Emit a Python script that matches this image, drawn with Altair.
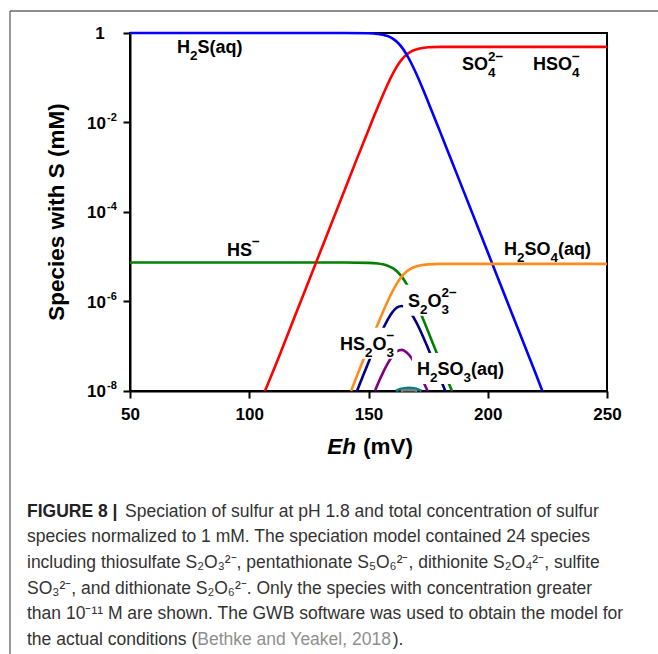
import altair as alt
import pandas as pd

FONT = "Liberation Sans"

# ---------------- data ----------------
EH_TICKS = [50, 100, 150, 200, 250]
Y_TICK_EXP = [0, -2, -4, -6, -8]

SPECIES = ["HS-", "SO4--", "H2S(aq)", "H2SO4(aq)", "S2O3--", "HS2O3-", "S-teal", "S-gray"]
COLORS = ["#008000", "#ff0000", "#0000ff", "#ff8c1a", "#000080", "#800080", "#008080", "#7f7f7f"]

# Eh (mV) and log10(concentration, mM)
hs_eh = [50, 140, 150, 154, 156, 158, 160, 162, 164, 166, 168, 170, 172, 175, 178, 180, 184, 185.0]
hs_log = [-5.13, -5.13, -5.136, -5.15, -5.17, -5.20, -5.25, -5.33, -5.45, -5.61, -5.81, -6.04, -6.28, -6.67, -7.07, -7.33, -7.87, -8.0]

so4_eh = [106.6, 110, 120, 130, 140, 145, 150, 152, 154, 156, 158, 160, 162, 164, 166, 168, 170, 172, 175, 180, 190, 250]
so4_log = [-8.0, -7.56, -6.21, -4.86, -3.51, -2.83, -2.17, -1.90, -1.64, -1.39, -1.15, -0.93, -0.74, -0.59, -0.48, -0.41, -0.37, -0.34, -0.32, -0.31, -0.31, -0.31]

h2s_eh = [50, 100, 140, 150, 154, 156, 158, 160, 162, 164, 166, 168, 170, 172, 175, 180, 185, 190, 200, 210, 220, 222.9]
h2s_log = [0, 0, 0, -0.006, -0.021, -0.038, -0.068, -0.119, -0.201, -0.321, -0.483, -0.681, -0.907, -1.152, -1.540, -2.204, -2.877, -3.55, -4.90, -6.25, -7.60, -8.0]

h2so4_eh = [142.7, 145, 148, 150, 152, 154, 156, 158, 160, 162, 164, 166, 168, 170, 172, 175, 180, 190, 250]
h2so4_log = [-8.0, -7.68, -7.28, -7.02, -6.75, -6.49, -6.24, -6.00, -5.78, -5.59, -5.44, -5.33, -5.26, -5.22, -5.19, -5.17, -5.16, -5.16, -5.16]

s2o3_eh = [145.2, 146, 148, 150, 152, 154, 156, 158, 160, 162, 164, 166, 168, 170, 172, 175, 178, 180, 182.2]
s2o3_log = [-8.0, -7.89, -7.62, -7.36, -7.10, -6.85, -6.62, -6.41, -6.24, -6.13, -6.10, -6.16, -6.28, -6.46, -6.68, -7.05, -7.44, -7.71, -8.0]

hs2o3_eh = [152.7, 154, 156, 158, 160, 162, 164, 166, 168, 170, 172, 174, 174.8]
hs2o3_log = [-8.0, -7.83, -7.60, -7.39, -7.22, -7.11, -7.08, -7.14, -7.26, -7.44, -7.66, -7.91, -8.0]

teal_eh = [161.5, 163, 165, 167, 169, 171, 172.2]
teal_log = [-8.0, -7.96, -7.94, -7.93, -7.94, -7.97, -8.0]

gray_eh = [163.5, 165, 167, 169, 170.5]
gray_log = [-8.0, -7.985, -7.98, -7.985, -8.0]

SERIES = [
    ("HS-", hs_eh, hs_log),
    ("SO4--", so4_eh, so4_log),
    ("H2S(aq)", h2s_eh, h2s_log),
    ("H2SO4(aq)", h2so4_eh, h2so4_log),
    ("S2O3--", s2o3_eh, s2o3_log),
    ("HS2O3-", hs2o3_eh, hs2o3_log),
    ("S-teal", teal_eh, teal_log),
    ("S-gray", gray_eh, gray_log),
]

# curve labels: anchor (Eh, log10 conc) of left edge / baseline, pieces, white box behind
LABELS = [
    (69.7, -0.447, [("H", "n"), ("2", "sub"), ("S(aq)", "n")], False),
    (189.2, -0.83, [("SO", "n"), ("4", "sub"), ("2\u2212", "sup")], False),
    (219.0, -0.83, [("HSO", "n"), ("4", "sub"), ("\u2212", "sup")], False),
    (90.7, -4.98, [("HS", "n"), ("\u2212", "sup")], False),
    (206.8, -4.96, [("H", "n"), ("2", "sub"), ("SO", "n"), ("4", "sub"), ("(aq)", "n")], False),
    (166.6, -6.12, [("S", "n"), ("2", "sub"), ("O", "n"), ("3", "sub"), ("2\u2212", "sup")], True),
    (138.0, -7.08, [("HS", "n"), ("2", "sub"), ("O", "n"), ("3", "sub"), ("\u2212", "sup")], True),
    (170.3, -7.64, [("H", "n"), ("2", "sub"), ("SO", "n"), ("3", "sub"), ("(aq)", "n")], True),
]

CAPTION_BOLD = "FIGURE 8 |"
CAPTION_LINES = [
    "Speciation of sulfur at pH 1.8 and total concentration of sulfur",
    "species normalized to 1 mM. The speciation model contained 24 species",
    "including thiosulfate S\u2082O\u2083\u00b2\u207b, pentathionate S\u2085O\u2086\u00b2\u207b, dithionite S\u2082O\u2084\u00b2\u207b, sulfite",
    "SO\u2083\u00b2\u207b, and dithionate S\u2082O\u2086\u00b2\u207b. Only the species with concentration greater",
    "than 10\u207b\u00b9\u00b9 M are shown. The GWB software was used to obtain the model for",
    "the actual conditions (",
]
CAPTION_CITE = "Bethke and Yeakel, 2018"
CAPTION_END = ")."

# ---------------- layout helpers ----------------
W, H = 477, 358
MAIN = 18.0
SCRIPT = 13.5
SUB_DY = 7
SUP_DY = -9.5
CAP = 17.5

BOLD_W = {"H": .722, "S": .667, "O": .778, "(": .333, ")": .333, "a": .556, "q": .611,
          "2": .556, "3": .556, "4": .556, "\u2212": .584}
REG_W = {"t": .278, "h": .556, "e": .556, " ": .278, "a": .556, "c": .5, "u": .556, "l": .222,
         "o": .556, "n": .556, "d": .556, "i": .222, "s": .5, "(": .333, "B": .667, "k": .5,
         "Y": .667, ",": .278, "0": .556, "1": .556, "2": .556, "8": .556}


def bw(s, size):
    return sum(BOLD_W.get(c, .6) for c in s) * size


def rw(s, size):
    return sum(REG_W.get(c, .55) for c in s) * size


xs = alt.Scale(domain=[50, 250], nice=False, zero=False)
ys = alt.Scale(type="log", domain=[1e-8, 1], nice=False)
XAXIS = alt.Axis(
    values=EH_TICKS, title=None, grid=False, labelFont=FONT, labelFontWeight="bold",
    labelFontSize=17, labelColor="black", tickColor="black", tickSize=7, tickWidth=2,
    domainColor="black", domainWidth=2, labelPadding=8, labelFlush=False)
YAXIS = alt.Axis(
    values=[10.0 ** e for e in Y_TICK_EXP], labels=False, title=None, grid=False,
    tickColor="black", tickSize=7, tickWidth=2, domainColor="black", domainWidth=2)

rows = []
for name, ehs, logs in SERIES:
    for e, l in zip(ehs, logs):
        rows.append({"species": name, "Eh": e, "logc": l})
df = pd.DataFrame(rows)

lines = alt.Chart(df).transform_calculate(conc="pow(10, datum.logc)").mark_line(
    strokeWidth=2.6, interpolate="monotone"
).encode(
    x=alt.X("Eh:Q", scale=xs, axis=XAXIS),
    y=alt.Y("conc:Q", scale=ys, axis=YAXIS),
    color=alt.Color("species:N", scale=alt.Scale(domain=SPECIES, range=COLORS), legend=None),
)


def anchor_chart(eh, logc, text=""):
    d = pd.DataFrame({"Eh": [eh], "logc": [logc], "t": [text]})
    return alt.Chart(d).transform_calculate(conc="pow(10, datum.logc)")


def anchored_text(eh, logc, text, dx, dy, size):
    return anchor_chart(eh, logc, text).mark_text(
        align="left", baseline="alphabetic", dx=dx, dy=dy, font=FONT,
        fontSize=size, fontWeight="bold", color="black"
    ).encode(
        x=alt.X("Eh:Q", scale=xs, axis=XAXIS),
        y=alt.Y("conc:Q", scale=ys, axis=YAXIS),
        text="t:N",
    )


def anchored_box(eh, logc, width):
    return anchor_chart(eh, logc).mark_rect(
        color="white", xOffset=-5, x2Offset=width + 3, yOffset=-22, y2Offset=9
    ).encode(
        x=alt.X("Eh:Q", scale=xs, axis=XAXIS), x2="Eh:Q",
        y=alt.Y("conc:Q", scale=ys, axis=YAXIS), y2="conc:Q",
    )


box_layers, text_layers = [], []
for eh, lg, pieces, boxed in LABELS:
    x = 0.0
    prev_kind, prev_x, prev_w = None, 0.0, 0.0
    for txt, kind in pieces:
        if kind == "n":
            size, dy = MAIN, 0
            px = x
            w = bw(txt, size)
            x = px + w
        else:
            size = SCRIPT
            dy = SUB_DY if kind == "sub" else SUP_DY
            w = bw(txt, size)
            if kind == "sup" and prev_kind == "sub":
                px = prev_x
                x = px + max(prev_w, w)
            else:
                px = x
                x = px + w
        prev_kind, prev_x, prev_w = kind, px, w
        text_layers.append(anchored_text(eh, lg, txt, px, dy, size))
    if boxed:
        box_layers.append(anchored_box(eh, lg, x))

# y tick labels 10^n
ytick_df = pd.DataFrame({"exp": Y_TICK_EXP})
ybase = alt.Chart(ytick_df).transform_calculate(
    conc="pow(10, datum.exp)",
    base="datum.exp == 0 ? '' : '10'",
    one="datum.exp == 0 ? '1' : ''",
    sup="datum.exp == 0 ? '' : '-' + abs(datum.exp)",
)
ytick_base = ybase.mark_text(align="right", baseline="middle", font=FONT, fontSize=17,
                             fontWeight="bold", color="black", dy=1).encode(
    x=alt.value(-24), y=alt.Y("conc:Q", scale=ys, axis=YAXIS), text="base:N")
ytick_one = ybase.mark_text(align="center", baseline="middle", font=FONT, fontSize=17,
                            fontWeight="bold", color="black", dy=1).encode(
    x=alt.value(-30), y=alt.Y("conc:Q", scale=ys, axis=YAXIS), text="one:N")
ytick_sup = ybase.mark_text(align="left", baseline="middle", font=FONT, fontSize=11,
                            fontWeight="bold", color="black", dy=-5).encode(
    x=alt.value(-23), y=alt.Y("conc:Q", scale=ys, axis=YAXIS), text="sup:N")

# axis titles
ytitle = alt.Chart(pd.DataFrame({"t": ["Species with S (mM)"]})).mark_text(
    angle=270, align="center", baseline="middle", font=FONT,
    fontSize=22.5, fontWeight="bold", color="black").encode(
    x=alt.value(-73), y=alt.value(H / 2), text="t:N")
xt1 = alt.Chart(pd.DataFrame({"t": ["Eh"]})).mark_text(
    align="right", baseline="alphabetic", font=FONT, fontSize=22.5, fontWeight="bold",
    fontStyle="italic", color="black").encode(x=alt.value(226), y=alt.value(421), text="t:N")
xt2 = alt.Chart(pd.DataFrame({"t": ["(mV)"]})).mark_text(
    align="left", baseline="alphabetic", font=FONT, fontSize=22.5, fontWeight="bold",
    color="black").encode(x=alt.value(233), y=alt.value(421), text="t:N")

# caption
CAP_X = -103
CAP_Y0 = 483.5
CAP_DY = 25.7
cap_layers = []
cap_layers.append(alt.Chart(pd.DataFrame({"t": [CAPTION_BOLD]})).mark_text(
    align="left", baseline="alphabetic", font=FONT, fontSize=CAP, fontWeight="bold",
    color="#222222").encode(x=alt.value(CAP_X), y=alt.value(CAP_Y0), text="t:N"))
for i, line in enumerate(CAPTION_LINES):
    x0 = CAP_X + (98 if i == 0 else 0)
    cap_layers.append(alt.Chart(pd.DataFrame({"t": [line]})).mark_text(
        align="left", baseline="alphabetic", font=FONT, fontSize=CAP, color="#333333").encode(
        x=alt.value(x0), y=alt.value(CAP_Y0 + i * CAP_DY), text="t:N"))
x_cite = CAP_X + rw(CAPTION_LINES[-1], CAP)
cap_layers.append(alt.Chart(pd.DataFrame({"t": [CAPTION_CITE]})).mark_text(
    align="left", baseline="alphabetic", font=FONT, fontSize=CAP, color="#8f8f8f").encode(
    x=alt.value(x_cite), y=alt.value(CAP_Y0 + 5 * CAP_DY), text="t:N"))
x_end = x_cite + rw(CAPTION_CITE, CAP)
cap_layers.append(alt.Chart(pd.DataFrame({"t": [CAPTION_END]})).mark_text(
    align="left", baseline="alphabetic", font=FONT, fontSize=CAP, color="#333333").encode(
    x=alt.value(x_end), y=alt.value(CAP_Y0 + 5 * CAP_DY), text="t:N"))

# figure frame (top and left edges)
frame_top = alt.Chart(pd.DataFrame({"a": [0]})).mark_rule(color="#8c8c8c", strokeWidth=2).encode(
    x=alt.value(-120), x2=alt.value(540), y=alt.value(-22))
frame_left = alt.Chart(pd.DataFrame({"a": [0]})).mark_rule(color="#555555", strokeWidth=1.2).encode(
    x=alt.value(-120), y=alt.value(-22), y2=alt.value(640))

chart = alt.layer(
    lines, *box_layers, *text_layers, ytick_base, ytick_one, ytick_sup,
    ytitle, xt1, xt2, *cap_layers, frame_top, frame_left
).properties(
    width=W, height=H,
    autosize=alt.AutoSizeParams(type="none"),
    padding={"left": 130, "top": 33, "right": 51, "bottom": 263},
    background="white",
).configure_view(stroke="black", strokeWidth=2)

chart.save("out.html", embed_options={"renderer": "svg", "actions": False})
